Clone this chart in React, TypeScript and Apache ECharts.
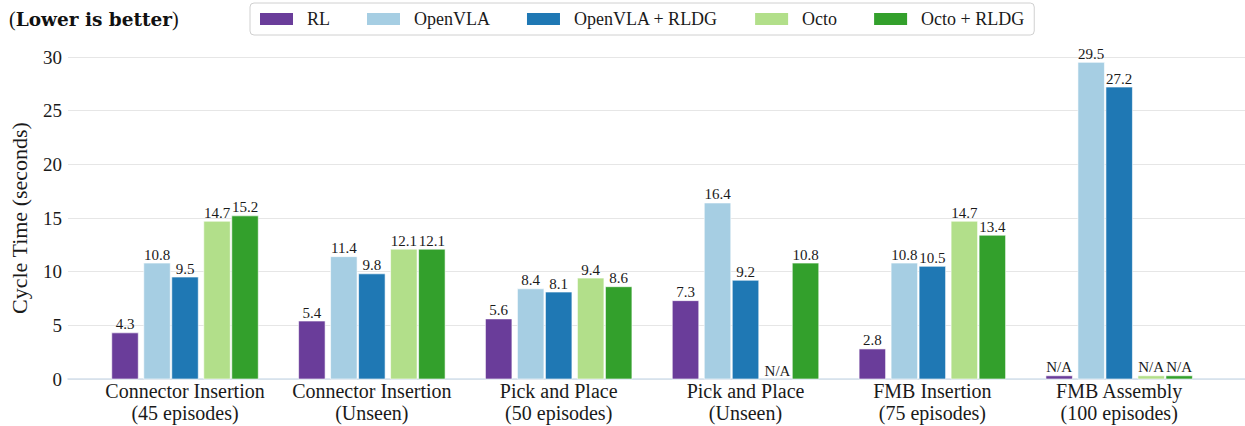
import React, { useEffect, useRef } from "react";
import * as echarts from "echarts";

const categories = [
  "Connector Insertion\n(45 episodes)",
  "Connector Insertion\n(Unseen)",
  "Pick and Place\n(50 episodes)",
  "Pick and Place\n(Unseen)",
  "FMB Insertion\n(75 episodes)",
  "FMB Assembly\n(100 episodes)",
];
const seriesNames = ["RL", "OpenVLA", "OpenVLA + RLDG", "Octo", "Octo + RLDG"];
const rl = [4.3, 5.4, 5.6, 7.3, 2.8, null];
const openvla = [10.8, 11.4, 8.4, 16.4, 10.8, 29.5];
const openvlaRldg = [9.5, 9.8, 8.1, 9.2, 10.5, 27.2];
const octo = [14.7, 12.1, 9.4, null, 14.7, null];
const octoRldg = [15.2, 12.1, 8.6, 10.8, 13.4, null];
// height of the placeholder stub drawn under an "N/A" label, per category
const naStub = [0, 0, 0, 0, 0, 0.3];
const yMin = 0;
const yMax = 30;
const yStep = 5;

const allValues = [rl, openvla, openvlaRldg, octo, octoRldg];
const colors = ["#6a3d9a", "#a6cee3", "#1f78b4", "#b2df8a", "#33a02c"];
const barOffsets = [-60, -28, 0, 32, 60];
const barWidth = 26.5;
const FONT = "Liberation Serif";

export default function App() {
  const ref = useRef<HTMLDivElement>(null);
  useEffect(() => {
    if (!ref.current) return;
    const chart = echarts.init(ref.current, null, { renderer: "svg" });
    const series = seriesNames.map((name, s) => {
      const vals = allValues[s];
      const data = vals.map((v, i) => [i, v == null ? naStub[i] : v]);
      return {
        name,
        type: "custom",
        xAxisIndex: 1,
        yAxisIndex: 1,
        itemStyle: { color: colors[s] },
        encode: { x: 0, y: 1 },
        data,
        renderItem: (params: any, api: any) => {
          const idx = params.dataIndex;
          const cat = api.value(0);
          const val = api.value(1);
          const base = api.coord([cat, 0]);
          const top = api.coord([cat, val]);
          const cx = base[0] + barOffsets[s];
          const h = base[1] - top[1];
          const raw = vals[idx];
          const label = raw == null ? "N/A" : raw.toFixed(1);
          const children: any[] = [];
          if (h > 0) {
            children.push({
              type: "rect",
              shape: { x: cx - barWidth / 2, y: top[1], width: barWidth, height: h },
              style: { fill: colors[s], stroke: "#ffffff", lineWidth: 0.6 },
            });
          }
          children.push({
            type: "text",
            x: cx,
            y: top[1] - 1,
            style: {
              text: label,
              align: "center",
              verticalAlign: "bottom",
              fill: "#1a1a1a",
              fontSize: 15,
              fontFamily: FONT,
            },
          });
          return { type: "group", children };
        },
      };
    });

    chart.setOption({
      animation: false,
      graphic: [
        {
          type: "text",
          left: 9,
          top: 9,
          style: {
            text: "{n|(}{b|Lower is better}{n|)}",
            rich: {
              n: { fontSize: 20, fontFamily: FONT, fill: "#111" },
              b: { fontSize: 18.5, fontFamily: "DejaVu Serif", fontWeight: "bold", fill: "#111" },
            },
          },
        },
      ],
      legend: {
        data: seriesNames,
        left: 250,
        top: 3,
        icon: "rect",
        itemWidth: 33,
        itemHeight: 12,
        itemGap: 37,
        padding: [7, 10, 7, 10],
        borderColor: "#d0d0d0",
        borderWidth: 1,
        borderRadius: 4,
        textStyle: { fontSize: 18, fontFamily: FONT, color: "#1a1a1a", padding: [0, 0, 0, 9] },
      },
      grid: [
        { left: 58, right: 0, top: 57, bottom: 47 },
        { left: 91.6, right: 32.4, top: 57, bottom: 47 },
      ],
      xAxis: [
        {
          type: "value",
          gridIndex: 0,
          min: 0,
          max: 1,
          axisLine: { show: true, lineStyle: { color: "#d3e0ec", width: 1.5 } },
          axisTick: { show: false },
          axisLabel: { show: false },
          splitLine: { show: false },
        },
        {
          type: "category",
          gridIndex: 1,
          data: categories,
          axisLine: { show: false },
          axisTick: { show: false },
          axisLabel: {
            fontSize: 20,
            fontFamily: FONT,
            color: "#1a1a1a",
            lineHeight: 22,
            margin: 1,
            interval: 0,
          },
        },
      ],
      yAxis: [
        {
          type: "value",
          gridIndex: 0,
          min: yMin,
          max: yMax,
          interval: yStep,
          axisLine: { show: false },
          axisTick: { show: false },
          axisLabel: { fontSize: 19, fontFamily: FONT, color: "#1a1a1a", margin: 6 },
          splitLine: { lineStyle: { color: "#e6e6e6", width: 1 } },
          name: "Cycle Time (seconds)",
          nameLocation: "middle",
          nameGap: 38,
          nameTextStyle: { fontSize: 22, fontFamily: FONT, color: "#1a1a1a" },
        },
        {
          type: "value",
          gridIndex: 1,
          min: yMin,
          max: yMax,
          interval: yStep,
          show: false,
        },
      ],
      series,
    });
    return () => chart.dispose();
  }, []);
  return (
    <div
      ref={ref}
      style={{ position: "absolute", left: 0, top: 0, width: 1245, height: 426 }}
    />
  );
}
